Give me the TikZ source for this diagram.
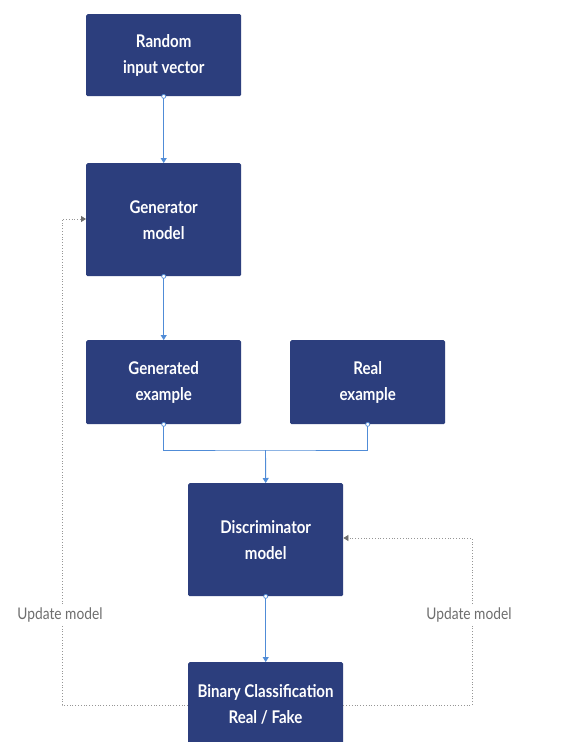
\documentclass[tikz,border=0pt]{standalone}
\usepackage{fontspec}
\setmainfont{Lato}[FakeStretch=0.86]
\usetikzlibrary{arrows.meta}
\definecolor{boxblue}{RGB}{44,62,125}
\definecolor{linkblue}{RGB}{80,140,215}
\definecolor{dotgray}{RGB}{150,150,150}
\definecolor{labgray}{RGB}{110,110,110}
\tikzset{
  stepbox/.style={draw=none, fill=boxblue, rounded corners=1.5pt, text=white, align=center, font=\bfseries\fontsize{17.5}{26}\selectfont, inner sep=0pt, anchor=north west},
  link/.style={draw=linkblue, line width=0.9pt, -{Triangle[length=5pt,width=6pt]}},
  dots/.style={draw=dotgray, line width=0.8pt, dotted},
  dotarrow/.style={dots, -{Triangle[length=5pt,width=6pt,color=labgray,fill=labgray]}},
  upd/.style={text=labgray, fill=white, font=\fontsize{16}{18}\selectfont, inner sep=2pt},
  src/.style={circle, draw=linkblue, fill=white, line width=0.7pt, minimum size=4pt, inner sep=0pt}
}
\begin{document}
\begin{tikzpicture}[x=1pt,y=1pt]
\useasboundingbox (0,0) rectangle (568,-742);
\clip (0,0) rectangle (568,-742);
\fill[white] (0,0) rectangle (568,-742);
% boxes
\node[stepbox, minimum width=155pt, minimum height=82pt] (rand) at (86,-14) {Random\\input vector};
\node[stepbox, minimum width=155pt, minimum height=113pt] (gen) at (86,-163) {Generator\\model};
\node[stepbox, minimum width=155pt, minimum height=84pt] (gex) at (86,-340) {Generated\\example};
\node[stepbox, minimum width=155pt, minimum height=84pt] (rex) at (290,-340) {Real\\example};
\node[stepbox, minimum width=155pt, minimum height=113pt] (disc) at (188,-483) {Discriminator\\model};
\node[stepbox, minimum width=155pt, minimum height=100pt] (bin) at (188,-662) {};
\node[text=white, align=center, font=\bfseries\fontsize{17.5}{26}\selectfont] (bintext) at (265.5,-704) {Binary Classification\\Real / Fake};
% coordinates
\coordinate (merge) at (265.5,-450);
\coordinate (gtr) at (62,-219);
\coordinate (gbl) at (62,-705);
\coordinate (dtr) at (472,-538);
\coordinate (dbr) at (472,-705);
% connectors
\draw[link] (rand.south) -- (gen.north);
\draw[link] (gen.south) -- (gex.north);
\draw[draw=linkblue, line width=0.9pt] (gex.south) |- (merge) -| (rex.south);
\draw[link] (merge) -- (disc.north);
\draw[link] (disc.south) -- (bin.north);
\node[src] (s1) at (rand.south) {};
\node[src] (s2) at (gen.south) {};
\node[src] (s3) at (gex.south) {};
\node[src] (s4) at (rex.south) {};
\node[src] (s5) at (disc.south) {};
% feedback
\draw[dotarrow] (bin.west |- gbl) -- (gbl) -- (gtr) -- (gen.west |- gtr);
\draw[dotarrow] (bin.east |- dbr) -- (dbr) -- (dtr) -- (disc.east |- dtr);
\node[upd] (ul) at (60,-615) {Update model};
\node[upd] (ur) at (469,-615) {Update model};
\end{tikzpicture}
\end{document}
